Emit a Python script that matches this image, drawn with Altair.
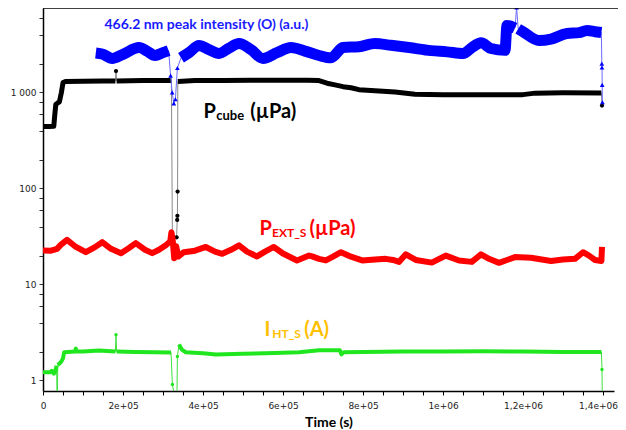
import json
import altair as alt
import pandas as pd

# ---------------- data ----------------
# kind: 'm' = main dense trace (thick), 'x' = isolated excursion samples (thin + marker)
cube_t = [0, 15000, 27000, 29000, 32000, 37000, 41000, 46000, 50000, 56000, 100000, 150000,
          181000, 182500, 184000, 250000, 300000, 321000, 323500, 334000, 335500, 336000, 336500,
          337000, 380000, 450000, 520000, 600000, 660000, 690000, 710000, 730000, 750000, 770000,
          790000, 830000, 880000, 930000, 1000000, 1100000, 1200000, 1230000, 1300000, 1396000, 1397500]
cube_v = [443, 443, 445, 560, 750, 780, 800, 1000, 1270, 1300, 1310, 1320,
          1320, 1670, 1320, 1330, 1330, 1330, 31, 31, 47, 52, 93,
          1300, 1330, 1330, 1340, 1340, 1340, 1330, 1250, 1200, 1150, 1120,
          1070, 1040, 1010, 960, 950, 950, 950, 985, 995, 990, 730]
cube_k = ['m'] * 13 + ['x'] + ['m'] * 4 + ['x'] * 5 + ['m'] * 21 + ['x']

pext_t = [0, 20000, 35000, 45000, 60000, 80000, 107000, 130000, 148000, 170000, 195000, 215000,
          232000, 255000, 273000, 290000, 307000, 318000, 321000, 324000, 328000, 333000, 338000,
          352000, 380000, 407000, 430000, 448000, 470000, 490000, 510000, 535000, 555000, 577000,
          600000, 635000, 665000, 673000, 690000, 707000, 725000, 745000, 770000, 798000, 830000,
          857000, 875000, 890000, 907000, 932000, 972000, 1007000, 1040000, 1072000, 1095000,
          1115000, 1140000, 1160000, 1180000, 1220000, 1270000, 1300000, 1330000, 1350000, 1365000,
          1380000, 1396000, 1397500]
pext_v = [22.6, 22.5, 23.5, 26, 29.2, 25, 21.7, 24.5, 27.6, 23.5, 21.2, 24,
          27, 23, 21.2, 23, 25.6, 28, 35, 30, 18.8, 25, 19.5,
          21.7, 22.5, 24.6, 22, 20.9, 23, 25.6, 22, 19.6, 22, 24.6,
          21, 17.8, 20, 19.6, 18.5, 17.8, 19.5, 21.7, 19.5, 17.8, 18.2,
          18.5, 18, 17.2, 20.6, 18, 16.9, 20, 17.8, 17.2, 20.6,
          18.5, 16.8, 18, 19.3, 19, 17.6, 18.2, 18.5, 21.7, 20,
          18, 17.6, 24.6]
pext_k = ['m'] * len(pext_t)

iht_t = [0, 18000, 22000, 27000, 30000, 34000, 35500, 37000, 41000, 46000, 50000, 53000, 80000,
         82000, 84000, 100000, 140000, 181000, 182500, 184000, 230000, 280000, 320000, 323500,
         334500, 336000, 340000, 347000, 357000, 400000, 432000, 500000, 580000, 640000, 690000,
         742000, 746000, 752000, 800000, 900000, 1000000, 1100000, 1200000, 1300000, 1396000,
         1397500, 1398500]
iht_v = [1.22, 1.22, 1.26, 1.18, 1.22, 1.42, 0.5, 1.45, 1.5, 1.58, 1.7, 1.97, 2.0,
         2.15, 2.0, 2.0, 2.05, 2.0, 3.0, 2.0, 1.98, 1.97, 1.96, 0.91,
         0.5, 1.78, 2.37, 2.1, 1.97, 1.92, 1.87, 1.9, 1.93, 1.97, 2.07,
         2.07, 1.87, 1.97, 1.98, 2.0, 2.0, 2.02, 2.0, 1.98, 1.98,
         1.3, 0.5]
iht_k = ['m'] * 6 + ['x'] + ['m'] * 11 + ['x'] + ['m'] * 4 + ['x'] * 3 + ['m'] * 19 + ['x'] * 2

oint_t = [132000, 150000, 173000, 200000, 240000, 260000, 280000, 300000, 314000, 319000, 323000,
          327000, 331000, 336000, 345000, 365000, 390000, 415000, 440000, 465000, 490000, 520000,
          550000, 585000, 620000, 655000, 690000, 720000, 750000, 790000, 830000, 870000, 915000,
          970000, 1010000, 1050000, 1075000, 1095000, 1120000, 1155000, 1160000, 1180000, 1184000,
          1188000, 1200000, 1240000, 1270000, 1310000, 1340000, 1360000, 1380000, 1396000, 1397000,
          1397500, 1398000, 1398500]
oint_v = [2580, 2500, 2260, 2500, 2940, 2700, 2430, 2600, 2730, 1500, 1000,
          770, 850, 1800, 2300, 2600, 3090, 2800, 2550, 2900, 3240, 2800,
          2260, 2600, 2940, 2700, 2430, 2300, 2940, 3000, 3240, 3100, 2940,
          2730, 2650, 2550, 3000, 3300, 2870, 2750, 4980, 4700, 7700,
          4600, 4300, 3480, 3600, 4120, 4200, 4430, 4300, 4210, 2000,
          1820, 1200, 790]
oint_k = ['m'] * 9 + ['x'] * 5 + ['m'] * 28 + ['x'] + ['m'] * 9 + ['x'] * 4

x_tick_labels = ['0', '2e+05', '4e+05', '6e+05', '8e+05', '1e+06', '1,2e+06', '1,4e+06']
y_label_values = [1, 10, 100, 1000]
y_label_text = ['1', '10', '100', '1 000']
y_minor_mult = [1, 2, 4, 6, 8]

# ---------------- chart ----------------
W, H = 571, 383
x_max = 1427500
y_dom = [0.777, 7590]

x_vals = list(range(0, x_max + 1, 50000))
x_expr = ("datum.value % 200000 == 0 ? " + json.dumps(x_tick_labels)
          + "[round(datum.value / 200000)] : ''")
y_vals = [m * d for d in [1, 10, 100, 1000] for m in y_minor_mult if m * d <= y_dom[1]]
y_expr = " : ".join(f"datum.value == {v} ? '{t}'" for v, t in zip(y_label_values, y_label_text)) + " : ''"

x_enc = alt.X('t:Q', scale=alt.Scale(domain=[0, x_max], nice=False, zero=False),
              axis=alt.Axis(values=x_vals, labelExpr=x_expr, title='Time (s)', grid=False,
                            tickSize=4, tickColor='black', domainColor='black', domainWidth=1.5,
                            labelFont='DejaVu Sans', labelFontSize=9, labelColor='#222',
                            labelPadding=6, labelOverlap=False, labelFlush=False,
                            labelOffset={"condition": {"test": "datum.value >= 1400000", "value": -5},
                                         "value": 0},
                            titleFont='Lato', titleFontSize=14, titleFontWeight='bold',
                            titleColor='black', titlePadding=5))
y_enc = alt.Y('v:Q', scale=alt.Scale(type='log', domain=y_dom, nice=False),
              axis=alt.Axis(values=y_vals, labelExpr=y_expr, title=None, grid=False,
                            tickSize=4, tickColor='#333', domainColor='black', domainWidth=1.5,
                            labelFont='DejaVu Sans', labelFontSize=9, labelColor='#222',
                            labelPadding=3, labelOverlap=False))


def build(t, v, k):
    rows, seg, prev = [], 0, None
    for i, (ti, vi, ki) in enumerate(zip(t, v, k)):
        if ki == 'm' and prev != 'm':
            seg += 1
        rows.append(dict(t=ti, v=vi, k=ki, seg=seg, o=i))
        prev = ki
    return pd.DataFrame(rows)


def layers(t, v, k, color, width, thin_color, shape, size, interp='linear'):
    df = build(t, v, k)
    out = [alt.Chart(df).mark_line(color=thin_color, strokeWidth=1, clip=True)
           .encode(x=x_enc, y=y_enc, order='o:Q')]
    out.append(alt.Chart(df[df.k == 'm']).mark_line(color=color, strokeWidth=width, clip=True,
                                                    strokeJoin='round', interpolate=interp)
               .encode(x=x_enc, y=y_enc, detail='seg:N', order='o:Q'))
    xs = df[df.k == 'x']
    if len(xs):
        out.append(alt.Chart(xs).mark_point(filled=True, shape=shape, size=size, color=color,
                                            opacity=1, clip=True)
                   .encode(x=x_enc, y=y_enc))
    return out


all_layers = []
all_layers += layers(cube_t, cube_v, cube_k, 'black', 5, '#8a8a8a', 'circle', 18)
all_layers += layers(iht_t, iht_v, iht_k, '#1fe61f', 4, '#3ee03e', 'circle', 12)
all_layers += layers(pext_t, pext_v, pext_k, '#ff0000', 6, '#ff5555', 'square', 12)
all_layers += layers(oint_t, oint_v, oint_k, '#0000ff', 11, '#6b6bff', 'triangle-up', 22,
                     interp='monotone')

# annotations (text, t position, value position, font size, colour)
annots = [
    ("466.2 nm peak intensity (O) (a.u.)", 153750, 4550, 14, '#1a1aff'),
    ("P", 401250, 543, 20, 'black'),
    ("cube", 433000, 515, 13, 'black'),
    ("(µPa)", 518000, 543, 20, 'black'),
    ("P", 541250, 32.8, 20, '#ff0000'),
    ("EXT_S", 572500, 30.9, 12, '#ff0000'),
    ("(µPa)", 666250, 32.8, 20, '#ff0000'),
    ("I", 553750, 2.91, 20, '#ffc000'),
    ("HT_S", 573000, 2.79, 12, '#ffc000'),
    ("(A)", 653000, 2.91, 20, '#ffc000'),
]
for txt, at, av, fs, col in annots:
    all_layers.append(
        alt.Chart(pd.DataFrame({'t': [at], 'v': [av], 's': [txt]}))
        .mark_text(align='left', baseline='alphabetic', font='Lato', fontWeight='bold',
                   fontSize=fs, color=col)
        .encode(x=x_enc, y=y_enc, text='s:N'))

top_rule = alt.Chart(pd.DataFrame({'a': [0]})).mark_rule(color='black', strokeWidth=1.5).encode(
    y=alt.value(0), x=alt.value(0), x2=alt.value(W + 4))
all_layers.append(top_rule)

chart = alt.layer(*all_layers).properties(
    width=W, height=H, autosize='none',
    padding={'left': 35, 'top': 0, 'right': 4, 'bottom': 38},
    background='white'
).configure_view(stroke=None)

chart.save("out.html", embed_options={"renderer": "svg", "actions": False})
